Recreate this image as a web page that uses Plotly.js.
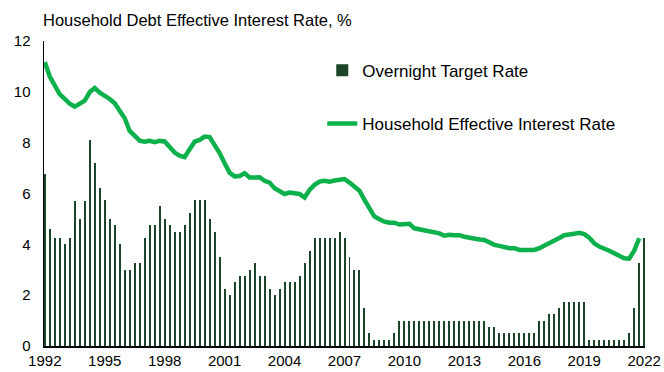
<!DOCTYPE html>
<html>
<head>
<meta charset="utf-8">
<script src="https://cdn.plot.ly/plotly-3.0.1.min.js"></script>
<style>html,body{margin:0;padding:0;background:#fff;}#chart{width:664px;height:372px;}</style>
</head>
<body>
<div id="chart"></div>
<script>
// Quarterly series, first quarter = 1992
const startYear = 1992;
const overnightRate = [
  6.75, 4.6, 4.25, 4.25, 4.0, 4.25, 5.7, 5.0, 5.7, 8.1,
  7.2, 6.2, 5.75, 5.0, 4.75, 4.0, 3.0, 3.0, 3.25, 3.25,
  4.25, 4.75, 4.75, 5.5, 5.0, 4.75, 4.5, 4.5, 4.75, 5.25,
  5.75, 5.75, 5.75, 5.0, 4.5, 3.5, 2.25, 2.0, 2.5, 2.75,
  2.75, 3.0, 3.25, 2.75, 2.75, 2.25, 2.0, 2.25, 2.5, 2.5,
  2.5, 2.75, 3.25, 3.75, 4.25, 4.25, 4.25, 4.25, 4.25, 4.5,
  4.25, 3.5, 3.0, 3.0, 1.5, 0.5, 0.25, 0.25, 0.25, 0.25,
  0.5, 1.0, 1.0, 1.0, 1.0, 1.0, 1.0, 1.0, 1.0, 1.0,
  1.0, 1.0, 1.0, 1.0, 1.0, 1.0, 1.0, 1.0, 1.0, 0.75,
  0.75, 0.5, 0.5, 0.5, 0.5, 0.5, 0.5, 0.5, 0.5, 1.0,
  1.0, 1.25, 1.25, 1.5, 1.75, 1.75, 1.75, 1.75, 1.75, 0.25,
  0.25, 0.25, 0.25, 0.25, 0.25, 0.25, 0.25, 0.5, 1.5, 3.25,
  4.25
];
const householdRate = [
  11.17, 10.6, 10.25, 9.9, 9.72, 9.53, 9.42, 9.55, 9.65, 9.99,
  10.15, 9.97, 9.85, 9.72, 9.55, 9.29, 8.96, 8.46, 8.24, 8.08,
  8.04, 8.07, 8.02, 8.07, 8.05, 7.82, 7.61, 7.49, 7.43, 7.74,
  8.04, 8.11, 8.24, 8.22, 7.91, 7.59, 7.19, 6.82, 6.67, 6.69,
  6.80, 6.63, 6.63, 6.64, 6.50, 6.43, 6.21, 6.07, 5.98, 6.04,
  6.01, 5.98, 5.84, 6.14, 6.34, 6.47, 6.50, 6.46, 6.51, 6.54,
  6.57, 6.43, 6.27, 6.11, 5.75, 5.38, 5.09, 4.99, 4.89, 4.85,
  4.85, 4.78, 4.78, 4.81, 4.63, 4.59, 4.54, 4.48, 4.46, 4.43,
  4.34, 4.38, 4.36, 4.36, 4.30, 4.25, 4.20, 4.19, 4.17, 4.08,
  3.98, 3.94, 3.89, 3.85, 3.85, 3.78, 3.78, 3.77, 3.78, 3.85,
  3.94, 4.04, 4.15, 4.25, 4.36, 4.41, 4.42, 4.45, 4.40, 4.26,
  4.04, 3.91, 3.85, 3.75, 3.65, 3.54, 3.45, 3.44, 3.75, 4.24
];
const tickYears = [1992, 1995, 1998, 2001, 2004, 2007, 2010, 2013, 2016, 2019, 2022];
const tickLabels = ["1992", "1995", "1998", "2001", "2004", "2007", "2010", "2013", "2016", "2019", "2022"];
const yTicks = [0, 2, 4, 6, 8, 10, 12];
const seriesNames = ["Overnight Target Rate", "Household Effective Interest Rate"];
const chartTitle = "Household Debt Effective Interest Rate, %";

const xBars = overnightRate.map((_, i) => startYear + i / 4);
const xLine = householdRate.map((_, i) => startYear + i / 4);

const font = "Liberation Sans, Arial, sans-serif";

const traces = [
  {
    type: "bar",
    x: xBars,
    y: overnightRate,
    name: seriesNames[0],
    width: 0.1,
    marker: { color: "#1c4428", line: { width: 0 } },
    legend: "legend",
    hoverinfo: "x+y"
  },
  {
    type: "scatter",
    mode: "lines",
    x: xLine,
    y: householdRate,
    name: seriesNames[1],
    line: { color: "#0db14b", width: 4.5 },
    legend: "legend2"
  }
];

const layout = {
  width: 664,
  height: 372,
  margin: { l: 44, r: 19, t: 41, b: 26, pad: 0 },
  paper_bgcolor: "#ffffff",
  plot_bgcolor: "#ffffff",
  font: { family: font, size: 15, color: "#000000" },
  bargap: 0,
  title: {
    text: chartTitle,
    font: { family: font, size: 16.5, color: "#000000" },
    xref: "container", yref: "container",
    x: 43 / 664, xanchor: "left",
    y: 1 - 20 / 372, yanchor: "middle"
  },
  xaxis: {
    range: [1991.96, 2022.04],
    tickmode: "array",
    tickvals: tickYears,
    ticktext: tickLabels,
    ticks: "",
    showgrid: false,
    zeroline: false,
    showline: true,
    linecolor: "#000000",
    linewidth: 1.5,
    tickfont: { family: font, size: 15, color: "#000000" },
    fixedrange: true
  },
  yaxis: {
    range: [0, 12],
    tickmode: "array",
    tickvals: yTicks,
    ticks: "",
    ticklabelstandoff: 9,
    showgrid: false,
    zeroline: false,
    showline: true,
    linecolor: "#000000",
    linewidth: 1.5,
    tickfont: { family: font, size: 15, color: "#000000" },
    fixedrange: true
  },
  showlegend: true,
  legend: {
    x: 0.463, xanchor: "left",
    y: (346 - 70.7) / 305, yanchor: "middle",
    bgcolor: "rgba(0,0,0,0)",
    font: { family: font, size: 17, color: "#000000" }
  },
  legend2: {
    x: 0.463, xanchor: "left",
    y: (346 - 124) / 305, yanchor: "middle",
    bgcolor: "rgba(0,0,0,0)",
    font: { family: font, size: 17, color: "#000000" }
  }
};

Plotly.newPlot("chart", traces, layout, { displayModeBar: false, staticPlot: true });
</script>
</body>
</html>
